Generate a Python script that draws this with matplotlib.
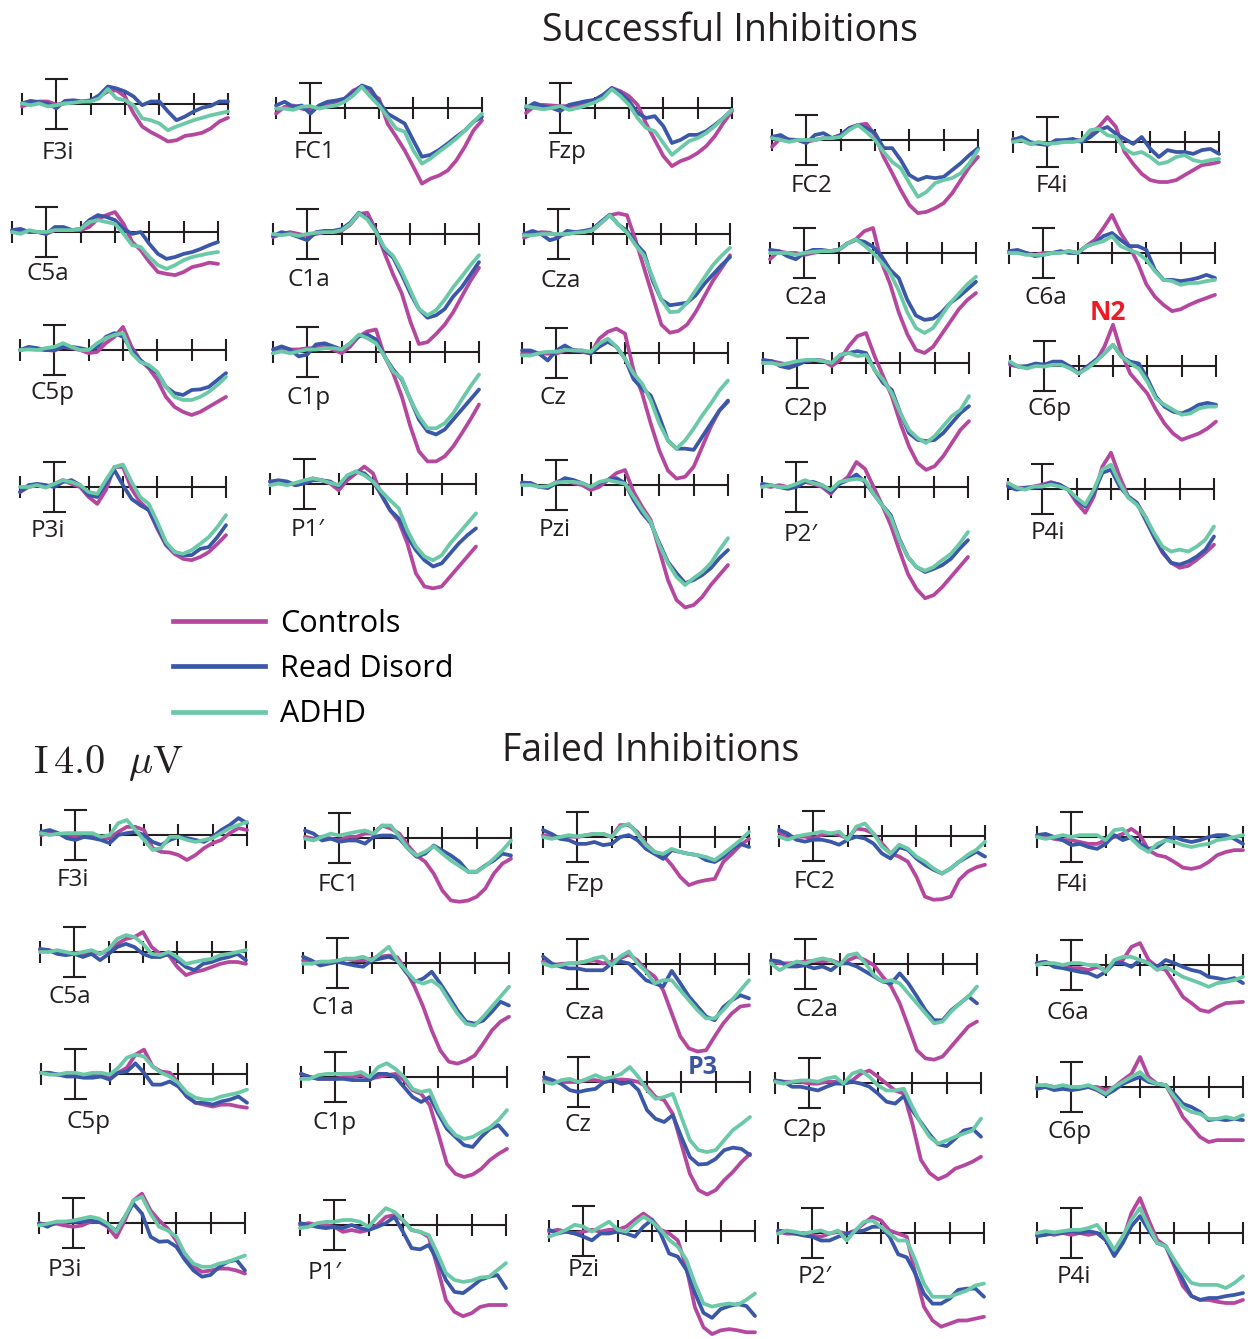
import numpy as np
import matplotlib
matplotlib.use("Agg")
import matplotlib.pyplot as plt
from matplotlib.lines import Line2D

plt.rcParams['font.family'] = ['Open Sans', 'DejaVu Sans']
plt.rcParams['mathtext.fontset'] = 'cm'

W, H = 1256, 1339

# ---------------- data ----------------
times = np.arange(-100, 501, 25)          # ms
groups = ["Controls", "Read Disord", "ADHD"]
group_colors = ["#b5479e", "#3a57a8", "#6bc9a8"]
tick_times = [-100, 100, 200, 300, 400, 500]
scale_uv = 4.0

# amplitudes in microvolts (negative plotted upward); order: Controls, Read Disord, ADHD
# ---- Successful inhibitions ----
s_F3i = ([0.4,-0.1,-0.4,-0.4,0.1,-0.1,-0.3,-0.4,-0.5,-1.2,-2.0,-2.2,-1.2,1.5,3.6,4.5,5.2,6.0,5.8,5.1,4.9,4.6,3.9,2.8,2.2],
         [-0.1,-0.5,-0.3,-0.1,0.7,-0.5,-0.6,-0.4,-0.6,-1.4,-2.8,-2.5,-2.0,-1.2,0.2,-0.4,-0.4,1.2,2.6,2.0,1.2,0.6,0.3,-0.4,-0.4],
         [-0.1,0.2,-0.1,0.4,0.2,-0.1,-0.2,-0.4,-0.4,-0.9,-2.4,-0.9,-0.6,0.2,2.3,2.6,3.1,4.2,3.6,3.1,2.6,2.2,1.8,1.5,1.2])
s_FC1 = ([0.9,-0.2,-0.4,0.1,0.4,-0.2,-0.7,-1.0,-1.5,-2.8,-3.4,-2.3,-1.5,2.5,4.6,6.8,9.4,12.1,11.3,10.8,10.0,8.4,6.2,3.6,2.0],
         [-0.4,-1.0,-0.2,-0.4,0.9,-0.4,-1.0,-1.2,-1.5,-2.5,-3.6,-3.1,-1.0,0.9,1.7,2.5,5.2,7.8,7.5,6.7,5.7,4.6,3.6,2.2,1.4],
         [0.1,0.1,0.3,-0.2,-0.3,0.1,-0.2,-0.4,-1.0,-2.0,-3.4,-1.8,-0.4,1.4,3.3,3.8,6.8,8.9,8.1,7.0,6.0,4.9,3.6,2.2,0.9])
s_Fzp = ([0.8,-0.3,-0.5,-0.4,-0.3,-0.3,-0.5,-0.9,-1.3,-2.1,-3.2,-2.7,-1.9,-0.5,2.5,5.1,7.7,9.3,8.5,8.0,7.2,6.1,4.5,2.4,0.5],
         [0,-0.8,-0.3,0,0.5,-0.5,-0.8,-1.1,-1.3,-2.1,-3.2,-2.4,-1.1,0.8,1.6,1.3,2.9,5.6,5.1,4.3,4.3,3.7,2.7,1.6,0.3],
         [-0.3,0,0.2,0,-0.3,0.3,0,-0.4,-0.9,-1.6,-3.0,-1.9,-0.5,1.6,3.2,3.7,5.6,7.5,6.4,5.3,4.8,4.0,2.9,1.6,0.3])
s_FC2 = ([1.1,-0.3,-0.1,0,0.3,0,-0.3,-0.3,-0.8,-1.9,-2.4,-2.6,-0.8,2.7,5.3,8.0,10.4,11.7,11.5,10.9,10.1,8.5,6.4,4.3,2.7],
         [-0.5,-0.8,0,0,0.5,-0.8,-1.1,-0.3,-0.8,-1.9,-2.4,-1.9,-1.1,1.3,1.3,3.2,5.6,6.4,5.9,6.1,5.9,4.8,3.7,2.4,1.3],
         [-0.3,0,0.3,0,0,0,-0.3,-0.3,-0.5,-1.6,-2.4,-1.3,0,1.9,3.5,4.5,6.9,9.1,8.3,6.9,6.4,6.1,5.3,3.7,1.6])
s_F4i = ([-0.5,-0.3,0.3,0.2,0.3,0,-0.3,-0.3,-0.3,-1.3,-2.4,-4.0,-2.4,1.6,3.5,5.1,6.1,6.4,6.4,6.1,5.3,4.5,3.7,3.5,3.2],
         [-0.3,-0.8,0,0.3,0.5,-0.3,-0.3,-0.5,0,-0.8,-1.9,-2.4,-1.3,-0.5,0.3,-0.8,1.1,2.4,1.3,1.6,1.6,1.9,1.3,1.1,1.9],
         [0,-0.3,0.3,0,0.3,0.2,0,0,-0.3,-1.9,-2.1,-1.1,-0.8,1.1,1.9,1.6,2.4,3.5,3.2,2.4,2.1,2.9,3.2,2.9,2.7])
s_C5a = ([0,-0.3,0,0,0.3,-0.3,-0.5,-0.3,-0.3,-0.8,-2.1,-2.7,-3.2,-1.3,1.6,2.9,4.8,6.4,6.7,6.9,6.4,5.6,5.3,4.9,5.1],
         [-0.3,-0.5,0,0,0.3,-0.8,-0.8,-0.3,-0.5,-1.9,-2.7,-2.4,-1.9,-0.5,0.3,0,1.9,3.5,4.3,4.0,3.5,3.2,2.7,2.1,1.6],
         [0,0.3,-0.3,0,0,-0.3,-0.3,-0.3,-0.5,-1.6,-1.9,-1.6,-1.3,0.3,2.1,2.4,4.0,5.3,5.9,5.3,4.5,4.0,3.7,3.4,3.2])
s_C1a = ([0.5,0,-0.3,0,0.3,0,-0.3,-0.3,-0.5,-1.5,-3.2,-3.4,-0.6,3.1,6.5,9.5,14.0,17.6,17.3,16.0,14.5,12.5,10.0,7.5,5.4],
         [0.3,-0.3,0,0.5,1.0,-0.3,-0.5,-0.5,-0.8,-1.8,-3.4,-2.5,-0.5,2.5,3.8,6.5,9.5,12.0,13.4,13.0,12.0,10.0,8.5,6.5,4.5],
         [0,0.2,0,0.3,0,-0.2,-0.3,-0.3,-0.6,-1.6,-3.3,-2.3,-0.3,2.2,3.5,6.0,9.0,12.0,13.0,12.2,10.5,8.5,6.8,5.0,3.4])
s_Cza = ([0.6,0,-0.3,-0.2,0.3,0,-0.3,-0.4,-0.6,-1.8,-3.0,-3.3,-3.0,1.0,5.5,10.0,14.5,15.8,15.5,14.5,12.5,10.0,7.5,5.5,3.4],
         [0,-0.5,0,1.0,0.6,-0.5,-0.3,-0.5,-0.8,-2.0,-3.1,-1.5,-0.5,1.5,3.0,7.5,10.5,11.4,11.2,11.0,9.8,8.0,6.5,5.0,3.7],
         [0.2,0.2,0,0,0,0,-0.2,-0.3,-0.6,-1.8,-3.0,-1.5,-0.2,1.8,3.5,7.0,10.5,12.5,12.4,11.0,9.0,7.0,5.0,3.5,2.2])
s_C2a = ([1.0,-0.3,0,0,0.3,0,-0.3,-0.3,-0.5,-1.5,-2.2,-3.5,-4.0,1.5,5.0,9.5,13.0,15.5,16.0,15.0,13.0,11.0,9.0,7.5,6.4],
         [-0.5,-0.3,0.5,1.0,0,-0.5,-0.5,-0.3,-0.5,-1.5,-2.1,-1.8,-1.0,0.5,2.7,4.0,7.5,10.0,10.7,10.5,9.5,8.0,7.0,5.8,4.6],
         [0,0,0,0.3,0,-0.2,-0.3,-0.3,-0.5,-1.5,-2.2,-1.2,0,1.5,3.2,6.0,9.5,12.0,12.8,12.0,10.0,8.0,6.5,5.0,3.8])
s_C6a = ([0,-0.3,0,0.3,0,0,-0.1,-0.3,0,-1.1,-2.1,-4.0,-6.1,-3.2,-1.1,1.6,5.0,7.0,8.3,9.3,9.0,8.3,7.7,7.2,6.7],
         [-0.3,-0.5,0,0.5,0.3,0,-0.3,0,0,-1.1,-1.6,-2.7,-3.2,-2.1,-1.1,-1.1,-0.5,2.7,4.3,4.3,4.5,4.3,4.0,3.5,4.0],
         [0,0,0.3,0.3,0.3,0,0,-0.3,0,-1.1,-1.5,-1.9,-2.7,-1.1,-0.5,0,1.1,2.9,4.3,4.5,5.1,4.8,4.8,4.5,4.3])
s_C5p = ([0,-0.3,-0.1,0,0.1,-0.5,-0.3,0,0.5,0.3,-1.1,-2.1,-3.7,-0.5,1.6,2.9,4.8,7.5,9.1,9.9,10.4,9.9,9.1,8.3,7.5],
         [0,-0.5,-0.3,0,0,-0.5,-0.5,-0.3,0,-0.5,-2.1,-2.7,-2.1,0,1.6,2.7,3.7,5.9,6.9,7.2,6.4,6.3,5.9,4.8,3.7],
         [0,-0.1,0,-0.3,-0.5,-1.1,-0.5,0,0,-1.1,-1.9,-2.4,-2.7,0.5,1.9,2.4,3.5,5.9,7.5,8.0,8.0,7.5,6.7,5.6,4.3])
s_C1p = ([0.2,-0.6,-0.4,-0.4,-0.6,-0.6,-0.9,-0.4,0.2,-0.9,-2.5,-3.3,-3.6,0.7,3.4,7.1,11.9,15.9,17.5,17.5,16.7,15.1,13.0,10.8,8.4],
         [-0.4,-0.9,-0.4,0.7,0.4,-1.2,-1.4,-0.9,-0.4,-1.4,-2.5,-2.8,-2.0,0.7,2.8,4.4,7.6,10.8,12.7,13.2,12.4,10.8,9.2,7.6,6.0],
         [0.2,-0.1,0.2,-0.1,-0.4,-0.4,-0.6,-0.6,-0.4,-1.4,-2.8,-2.2,-1.4,0.7,3.1,4.2,7.6,10.3,12.2,12.2,11.4,9.8,7.6,5.5,3.6])
s_Cz = ([0.1,-0.2,0.1,0.1,0.1,-0.4,-0.5,-0.2,0.1,-2.3,-3.4,-3.9,-3.1,2.8,6.5,11.3,15.6,18.8,20.1,19.8,18.2,15.0,11.8,9.2,7.8],
        [-0.4,-0.4,0.1,1.2,-0.4,-1.2,-0.4,-0.4,0.1,-1.0,-1.8,-1.0,0.9,4.2,5.7,6.8,10.2,14.0,15.3,15.3,15.5,13.4,11.3,9.2,7.6],
        [0.4,0.4,0,-0.2,-0.2,-0.5,-0.4,-0.4,-0.2,-1.5,-2.3,-1.0,0.9,3.3,4.9,7.6,11.3,14.0,15.3,14.0,12.1,10.0,8.1,6.0,4.4])
s_C2p = ([0,-0.3,0,0.3,0,-0.3,-0.5,-0.4,0.5,-0.5,-2.7,-4.3,-4.8,-1.1,2.1,5.3,9.6,13.3,16.0,17.1,16.5,14.9,12.8,10.7,9.3],
         [-0.5,-0.3,0.5,0.8,0.3,-0.3,-0.5,-0.3,0,-1.3,-1.6,-1.9,-1.6,1.1,3.2,4.3,8.0,11.2,12.3,12.5,12.3,11.2,9.6,8.0,6.9],
         [0,0,0.3,0,-0.3,-0.5,-0.5,-0.3,0,-1.3,-1.6,-1.1,-1.3,1.1,2.7,4.8,8.0,10.7,12.0,12.8,11.7,10.1,8.5,7.5,5.3])
s_C6p = ([-0.2,0.1,0.2,-0.2,-0.2,-0.2,-0.3,0.1,1.2,0.1,-0.7,-3.1,-6.6,-2.0,1.2,2.8,4.4,7.0,9.2,10.8,11.8,11.3,10.8,10.0,8.9],
         [-0.5,0.1,0,-0.4,-0.2,-0.7,-0.7,0.1,1.2,0.1,-1.0,-2.0,-3.4,-1.5,-0.7,-0.4,2.0,4.9,6.5,7.3,7.6,7.0,6.2,5.9,6.2],
         [-0.7,0.1,0.4,0,0.1,-0.2,-0.2,0.4,1.2,0.4,-0.7,-2.0,-3.4,-1.5,-0.4,0.4,2.5,5.2,6.2,7.0,7.8,7.6,6.8,6.5,6.5])
s_P3i = ([0.8,0,-0.3,0,-0.5,-1.1,-0.5,0,1.6,2.7,0.5,-3.2,-3.2,0.3,2.4,3.7,6.7,9.3,10.7,11.5,11.7,11.2,10.4,9.1,7.7],
         [0.8,-0.3,-0.5,-0.3,0,-0.8,-1.1,-0.3,1.3,1.6,-0.5,-2.7,-0.3,1.9,2.9,3.7,6.4,9.1,10.4,10.9,10.9,9.9,9.6,8.0,6.1],
         [0,0,-0.3,0.1,-0.5,-1.1,-0.8,-0.3,0.8,1.1,-1.1,-3.2,-3.6,-0.8,1.6,2.7,5.6,8.8,10.4,10.7,10.1,9.1,8.0,6.4,4.5])
s_P1p = ([-0.4,-0.1,-0.2,0.2,-0.4,-0.9,-0.6,-0.1,1.0,-0.6,-1.7,-2.8,-1.7,1.8,4.2,6.0,9.5,14.3,16.4,16.7,16.4,14.8,13.2,11.6,10.0],
         [-0.4,-0.6,-0.4,0.2,-0.1,-0.6,-0.6,-0.4,0.4,-1.2,-2.0,-1.7,-0.4,1.8,4.2,5.5,8.4,10.6,12.2,13.2,12.7,11.1,9.5,8.2,7.1],
         [0.2,-0.1,0.2,-0.2,-0.6,-0.9,-0.6,-0.2,0.2,-1.4,-2.0,-1.4,-0.4,1.2,2.6,3.9,7.4,10.0,11.6,12.2,11.4,9.5,7.9,6.3,4.7])
s_Pzi = ([-0.3,-0.3,0.3,0.3,-0.5,-0.8,-0.3,0,0.8,0.3,-0.8,-1.9,-2.4,1.1,3.5,5.6,10.4,15.2,18.4,19.6,19.2,17.9,16.0,14.4,12.8],
         [-0.4,-0.3,0.3,0.5,-0.3,-1.1,-0.8,-0.3,0.3,-0.3,-0.8,-1.1,-0.3,2.4,4.5,6.1,9.3,12.3,14.1,15.7,15.2,14.4,13.3,11.7,10.4],
         [0,0,0.3,0.2,-0.4,-0.5,-0.5,-0.3,0.3,-0.5,-0.8,-0.5,-0.2,1.9,4.0,5.9,9.6,12.5,14.7,16.0,14.9,13.9,12.5,10.4,8.5])
s_P2p = ([-0.3,0,-0.3,0,-0.3,-0.8,-0.5,0,1.1,-0.5,-1.6,-4.0,-2.9,0,2.9,6.1,10.1,13.9,16.3,17.8,17.3,16.0,14.4,12.8,11.2],
         [-0.5,-0.3,0,0.3,0,-0.8,-0.8,-0.3,0.8,-0.5,-1.1,-2.0,-0.8,1.1,2.9,4.5,8.3,11.2,12.8,13.6,13.1,12.5,11.5,9.9,8.5],
         [0,-0.3,0,0,-0.5,-1.1,-0.6,-0.3,0.5,-0.8,-1.1,-1.3,-1.1,1.1,2.9,4.8,8.5,11.2,12.8,13.4,12.8,11.7,10.7,9.1,7.2])
s_P4i = ([-0.7,-0.2,-0.2,-0.4,-0.7,-1.1,-0.7,0.1,2.2,3.8,1.2,-3.6,-5.8,-2.0,1.2,2.2,4.4,7.6,10.2,11.8,12.6,12.3,11.3,10.2,8.9],
         [-0.4,0.1,-0.2,-0.2,-0.4,-1.0,-0.7,0.1,1.7,2.8,0.6,-2.6,-3.1,-0.4,1.2,2.2,4.9,7.6,10.0,11.8,12.1,11.6,10.8,9.7,7.6],
         [-1.0,-0.2,0.1,-0.4,-0.4,-0.7,-0.4,0.1,1.4,2.5,0.1,-3.1,-3.9,-1.0,1.4,2.5,4.4,7.0,9.2,10.0,9.7,10.0,9.2,8.1,6.0])

# ---- Failed inhibitions ----
f_F3i = ([0,-0.3,-0.2,0,0.3,0,0.3,0.5,0.5,-0.5,-1.3,-1.3,-0.8,2.1,2.7,2.8,3.2,4.0,3.2,2.1,1.3,0.8,-0.3,-1.1,-0.8],
         [-0.5,-0.8,-0.3,0.5,0.8,0.3,0.5,0.8,1.3,0,-0.3,-0.5,0,1.1,1.6,0.8,0.3,0.5,0.8,1.1,0.3,-0.8,-1.6,-2.7,-1.9],
         [-0.3,0,-0.2,-0.3,-0.3,-0.3,-0.3,0.3,0,-1.9,-2.4,-0.8,0.8,2.4,2.1,0.3,0.3,0.8,1.1,0.8,0.5,-0.3,-1.1,-1.6,-2.1])
f_FC1 = ([-0.2,0.1,-0.2,0.1,0.4,-0.2,-0.2,-0.7,-0.7,-2.0,-1.5,-0.7,1.2,2.8,3.8,5.7,8.4,10.0,10.2,10.0,9.4,8.1,5.7,4.1,3.3],
         [-1.2,-0.7,0.4,0.1,0.6,0.4,0.4,0.9,-0.2,-0.4,-0.4,0.1,1.7,3.0,2.5,1.2,2.0,2.8,3.8,5.4,5.4,4.4,3.6,2.5,2.8],
         [0.1,0.4,-0.2,-0.7,-0.4,-0.7,-1.0,-1.2,-0.7,-2.0,-2.0,-0.2,1.7,2.8,2.2,1.3,2.5,3.6,4.5,5.4,5.4,4.5,3.3,2.0,0.4])
f_Fzp = ([-0.3,0,0,-0.1,0,-0.3,-0.5,-0.5,0,-1.9,-1.9,-0.8,1.1,2.4,2.9,4.5,6.4,7.7,7.2,6.9,6.7,4.0,2.7,1.3,0.3],
         [-1.1,-0.5,0.3,0.5,1.1,1.1,0.8,1.3,1.1,0,-0.3,0.5,1.9,2.7,3.5,2.1,2.4,2.7,2.9,3.7,4.0,3.2,1.9,1.1,1.6],
         [0,0.3,0,-0.3,-0.1,-0.3,-0.5,-0.5,0,-1.6,-2.1,-0.5,1.3,2.4,2.7,1.9,2.4,2.7,2.9,3.2,3.7,2.7,1.6,0.5,-0.8])
f_FC2 = ([-0.7,0.4,0.1,0.1,0.4,-0.2,-0.4,-0.2,0.4,-1.2,-1.0,-0.4,1.2,2.8,3.3,4.1,6.5,9.7,10.2,10.1,9.7,7.0,5.7,5.0,4.6],
         [-1.0,-0.4,0.6,0.9,0.6,0.6,0.9,1.4,0.6,0.1,0.4,1.2,2.8,3.6,1.8,2.2,3.6,4.6,5.4,6.0,5.2,4.1,3.3,2.5,3.3],
         [0.1,0.6,0.1,-0.2,-0.4,-0.7,-0.4,-0.7,0.6,-1.5,-2.0,-0.4,1.7,2.8,1.4,2.0,3.3,4.1,5.2,6.0,5.2,4.1,3.0,2.2,0.9])
f_F4i = ([0,-0.1,0.3,0.5,0.5,0.8,1.1,1.1,0.5,0,-0.5,-1.3,-0.3,2.1,2.9,3.2,4.0,4.9,5.1,4.8,4.0,2.9,2.4,2.1,2.1],
         [-0.3,-0.5,0,0.5,1.3,1.1,1.6,1.9,1.1,-0.3,0.5,0,1.1,1.9,1.6,0.5,0,0.5,0.8,0.5,0,-0.3,-0.3,0.3,1.1],
         [0,0.3,0,-0.3,0,-0.3,-0.3,-0.3,0.5,-1.1,-1.3,0.3,1.6,2.4,1.1,0.5,0.8,1.3,1.6,1.3,1.1,0.5,0.3,0,-0.3])
f_C5a = ([-0.3,-0.3,0,0.3,0.2,0.3,0,0.3,-0.3,-1.3,-2.1,-2.4,-3.2,-0.8,0.3,0.5,2.4,3.7,3.2,2.9,2.4,1.9,1.6,1.6,1.9],
         [-0.5,-0.3,0.3,0.5,0.3,0.8,0.3,1.3,0.3,-0.8,-1.3,-0.8,0.3,0.8,0.8,0.3,1.3,2.4,2.9,1.9,1.6,1.1,0.8,0.3,1.3],
         [0,0,-0.3,0,0.3,0,-0.3,0.3,-0.5,-2.1,-2.7,-2.4,-1.3,0.3,0.5,0,0.8,1.9,1.6,1.3,1.1,0.5,0.3,0,-0.3])
f_C1a = ([-0.4,0.1,-0.2,-0.2,-0.2,-0.7,-0.4,-0.4,-0.7,-1.0,-1.2,-0.9,1.2,3.8,7.0,10.8,14.0,15.8,16.1,15.6,14.8,12.9,10.8,9.4,8.6],
         [-1.0,-0.4,0.4,0.1,-0.2,0.1,0.4,0.6,-0.4,-0.7,-1.0,-0.4,1.5,3.0,2.5,1.4,3.3,5.4,7.6,9.4,9.7,9.2,7.8,6.2,6.8],
         [0.1,0.1,-0.2,-0.2,-0.4,-0.7,-0.7,-1.0,-0.4,-1.5,-2.6,-0.4,1.2,2.8,3.3,2.8,3.8,6.0,8.1,9.7,10.0,8.6,7.0,5.4,3.8])
f_Cza = ([-0.4,0.2,0,-0.1,-0.1,-0.4,-0.6,-0.1,-0.4,-0.9,-1.5,-0.6,1.0,2.0,4.2,7.9,11.6,13.5,14.0,13.8,11.6,9.5,7.9,6.8,6.6],
         [-1.2,-0.1,0.4,0.7,0.7,1.0,1.0,1.0,-0.1,-0.4,-0.1,1.2,2.6,3.1,3.6,1.1,3.1,5.2,6.8,8.4,9.0,6.9,5.8,5.0,5.5],
         [-0.1,0.4,0.2,-0.1,-0.2,-0.4,-0.9,-1.2,0.2,-1.2,-2.0,-0.1,1.2,3.1,2.6,2.6,4.2,5.8,7.4,8.7,8.7,7.4,5.8,4.2,2.6])
f_C2a = ([-0.4,-0.1,-0.1,-0.2,-0.4,-0.5,-0.4,-0.6,-0.1,-0.6,-1.2,-0.6,0.2,2.0,3.6,6.3,10.0,13.8,15.1,15.3,14.8,13.2,11.6,10.0,9.2],
         [-0.6,-0.4,0.4,0.4,0.2,0.7,0.4,1.0,-0.1,-0.1,0.4,1.2,2.0,2.8,3.1,1.5,3.1,5.2,7.4,9.0,9.0,7.4,6.3,5.2,6.3],
         [-0.1,1.0,0.2,-0.4,-0.1,-0.6,-0.9,-0.6,0.2,-1.4,-1.7,-0.1,1.8,2.8,2.6,3.1,4.7,6.3,7.9,9.5,9.2,7.6,6.3,5.2,3.6])
f_C6a = ([-0.3,-0.5,0,0.3,0.5,0.5,0.8,0.3,0.8,-0.3,-0.8,-2.9,-3.5,-0.8,0.3,0.8,2.9,5.1,6.1,7.2,7.5,6.7,6.1,6.0,5.9],
         [-0.3,-0.5,0.3,0.5,0.8,1.1,1.3,1.9,1.1,-0.3,-0.3,0.3,-0.8,-0.3,0.3,-0.8,-0.3,0.3,0.8,1.1,1.9,2.1,2.4,2.1,2.9],
         [0,-0.3,-0.3,0,-0.3,-0.3,0,0,1.1,-0.8,-1.3,-1.3,-0.8,-0.3,0.8,0.3,1.1,1.9,2.4,2.9,3.5,2.9,2.7,2.4,1.9])
f_C5p = ([-0.2,0,0.1,0.1,0.3,0.4,0.4,0.1,0.4,-0.2,-1.0,-3.1,-3.9,-1.2,-0.4,-0.2,1.4,3.6,4.6,4.9,5.2,4.9,4.9,5.2,5.4],
         [-0.2,-0.2,0.1,0.4,0.4,0.6,0.6,0.4,0.9,-0.2,-0.4,-1.7,-0.2,1.7,1.7,1.2,2.0,3.6,4.6,4.6,4.9,4.4,4.1,3.6,4.6],
         [-0.2,0.1,0.1,-0.2,-0.2,0.1,-0.2,-0.2,0.1,-1.0,-2.6,-3.1,-2.8,-1.2,-0.2,0.4,1.4,3.0,3.8,4.1,4.1,3.6,3.3,3.0,2.5])
f_C1p = ([-0.5,0,0.3,0.3,0.3,0,0,-0.3,0.3,0,-0.3,-0.5,0.5,2.1,2.7,4.5,9.1,13.9,15.5,16.0,15.6,14.7,13.3,12.3,11.5],
         [-0.5,0,0.3,0.3,0.3,0.3,0.5,0.5,0.5,-0.5,-0.5,0,1.6,3.2,4.0,3.2,5.9,8.3,9.6,10.9,11.2,9.6,8.3,7.7,9.3],
         [0.3,0.3,-0.3,-0.5,-0.5,-0.5,-0.5,-0.8,0,-1.6,-2.2,-1.3,0,1.9,2.4,2.1,5.3,7.7,9.3,9.9,9.6,8.8,8.1,6.9,5.3])
f_Cz = ([-0.3,0,0,0,0,-0.3,-0.3,0,-0.3,-0.4,-0.3,0,0.8,2.4,2.9,5.1,9.9,14.7,17.3,18.0,17.3,15.7,14.4,12.8,11.5],
        [-0.8,-0.3,0.3,1.3,1.6,1.3,1.1,0,-0.3,0.3,0,1.3,4.5,5.9,6.4,5.3,8.8,12.0,13.2,13.1,12.3,10.9,10.5,10.7,11.7],
        [0,0.3,-0.3,-0.5,0,-0.5,-1.1,-0.5,-0.8,-1.3,-2.4,-0.8,1.3,2.7,2.4,1.9,5.6,9.3,10.9,11.2,10.9,9.3,7.7,6.7,5.6])
f_C2p = ([-0.4,-0.2,-0.2,-0.2,0.1,0.1,-0.2,-0.2,0.1,-0.4,-1.5,-2.0,-1.0,0.1,1.2,1.7,6.5,12.3,14.4,15.4,14.8,13.7,13.2,12.6,11.8],
         [-0.4,-0.2,0.6,0.6,0.9,1.2,0.6,0.1,0.1,-0.2,0.1,0.6,1.7,3.0,3.3,2.1,4.4,6.3,8.2,9.8,10.1,8.9,7.6,7.3,8.6],
         [-0.2,0.1,-0.2,-0.4,-0.4,-0.2,-0.7,-1.0,0.1,-1.5,-2.0,-1.0,0.4,1.2,1.2,0.9,3.8,6.5,8.6,9.7,9.2,8.6,8.1,7.6,5.7])
f_C6p = ([0,-0.3,0,0,0.3,0,0,0,0.5,0,-1.1,-2.1,-4.8,-1.6,-0.5,-0.3,2.1,4.8,6.4,8.0,8.8,8.5,8.5,8.5,8.5],
         [0.3,0,0.5,0.3,0.5,0.3,0,0.5,1.3,0.5,-0.5,-1.1,-1.6,-0.8,-0.5,-0.3,1.1,2.7,3.2,4.0,5.3,5.1,5.3,5.1,5.3],
         [-0.3,-0.3,0,-0.3,0,0,-0.3,0.3,1.1,0,-0.8,-1.6,-2.4,-1.1,-0.5,-0.3,1.6,3.2,4.0,4.3,5.1,5.1,4.8,5.1,4.5])
f_P3i = ([0,0.4,0.1,0.4,0.6,0.4,-0.2,-0.2,0.6,2.3,-0.4,-3.6,-4.7,-2.0,-0.4,0.9,2.8,5.4,7.0,7.8,7.6,7.3,7.3,7.6,8.1],
         [0.1,0.6,-0.2,-0.2,-0.2,-0.2,-0.4,-0.2,0.4,1.2,-1.0,-3.1,-1.5,2.2,3.0,2.9,3.8,5.9,7.6,8.6,8.3,7.0,6.2,5.9,7.6],
         [0.4,0.1,-0.2,-0.2,-0.4,-0.7,-1.0,-0.7,0.1,1.4,-1.0,-3.6,-4.2,-1.5,0.6,1.2,2.2,4.9,6.5,7.0,7.0,6.5,6.2,5.7,5.2])
f_P1p = ([0,-0.3,0,0,0.3,1.1,0.8,1.1,0.8,0,-1.3,-1.6,-0.8,0.8,1.1,1.9,6.7,12.0,13.9,14.6,14.1,13.1,12.8,12.8,12.8],
         [-0.3,0,0.3,0.5,0.3,0.5,0,0.5,0.8,0.3,-0.3,-1.3,1.1,3.7,3.9,3.2,5.6,8.8,10.7,10.9,9.9,8.8,8.3,8.0,10.1],
         [0.5,0.3,-0.3,-0.5,-0.5,-0.8,-0.8,-0.5,0.3,-1.3,-2.7,-2.1,-0.8,0.8,1.1,1.6,4.5,7.7,8.8,9.1,8.9,8.4,8.3,7.2,6.1])
f_Pzi = ([0.1,-0.2,0.1,0.4,0.1,-0.2,0.1,-0.2,-0.2,-0.7,-1.8,-2.8,-1.8,-0.2,0.4,1.5,5.8,12.2,15.4,16.5,15.9,15.7,15.9,16.2,16.2],
         [-0.2,0.4,0.1,0.4,0.9,1.5,0.4,0.4,0.1,0.4,0.9,-0.7,-1.8,0.4,3.6,4.1,6.2,9.9,13.1,13.9,12.5,12.0,11.7,12.0,13.6],
         [0.9,0.4,-0.2,-1.0,-0.7,0.1,-0.7,-1.5,-0.2,0.1,-1.2,-2.3,-1.5,-0.2,1.4,2.5,4.6,8.4,11.6,12.1,11.8,11.6,11.8,11.0,10.0])
f_P2p = ([-0.2,0.1,0.1,0,0.4,0.6,0.1,-0.2,0.1,-0.4,-1.5,-2.6,-2.0,-0.4,0.1,0.6,6.5,11.8,14.0,15.0,14.5,14.0,14.0,13.7,13.4],
         [-0.4,-0.2,0.1,0.4,0.6,1.2,1.2,0.6,0.1,-0.2,-0.4,-1.0,-1.0,0.6,3.4,3.9,6.5,9.7,11.3,11.3,10.5,9.1,8.9,8.9,10.2],
         [0.1,-0.4,-0.2,0.1,-0.2,-0.4,0.1,-0.4,1.2,-0.4,-1.8,-2.0,-1.0,0.1,1.2,1.2,4.4,8.1,10.2,10.2,10.2,9.7,9.2,8.4,8.1])
f_P4i = ([0.3,0,0.3,0,0.3,0,0.3,0,1.1,3.2,1.1,-3.2,-5.6,-2.1,1.1,2.1,5.3,8.5,10.1,10.7,10.7,11.0,11.2,11.2,10.7],
         [0.5,0.3,0,0,-0.3,0,-0.3,0,1.1,3.7,1.6,-1.1,-2.7,-0.5,1.6,2.1,4.8,7.5,10.1,10.7,10.4,10.4,10.1,9.9,9.6],
         [0,-0.3,-0.1,-0.3,-0.5,-0.5,-0.8,-1.3,0.5,2.7,0.5,-2.1,-4.0,-1.1,1.6,2.1,4.3,6.4,8.0,8.3,8.3,8.3,8.8,8.0,6.9])

# ---------------- layout (pixels): data, label, axis-left x, baseline y, label x, label y ----------------
panels = [
    (s_F3i, "F3i", 22, 104, 58, 153), (s_FC1, "FC1", 276, 108, 314, 152), (s_Fzp, "Fzp", 526, 108, 567, 152),
    (s_FC2, "FC2", 772, 140, 812, 186), (s_F4i, "F4i", 1013, 142, 1052, 186),
    (s_C5a, "C5a", 12, 232, 48, 274), (s_C1a, "C1a", 273, 234, 309, 280), (s_Cza, "Cza", 524, 234, 561, 281),
    (s_C2a, "C2a", 770, 253, 806, 298), (s_C6a, "C6a", 1009, 253, 1046, 298),
    (s_C5p, "C5p", 20, 350, 53, 393), (s_C1p, "C1p", 273, 352, 309, 398), (s_Cz, "Cz", 522, 353, 553, 398),
    (s_C2p, "C2p", 763, 363, 806, 409), (s_C6p, "C6p", 1010, 366, 1050, 409),
    (s_P3i, "P3i", 20, 487, 48, 531), (s_P1p, "P1\u2032", 270, 484, 308, 530), (s_Pzi, "Pzi", 522, 485, 555, 530),
    (s_P2p, "P2\u2032", 762, 487, 801, 535), (s_P4i, "P4i", 1008, 489, 1048, 533),
    (f_F3i, "F3i", 41, 835, 73, 880), (f_FC1, "FC1", 305, 838, 338, 885), (f_Fzp, "Fzp", 543, 837, 585, 885),
    (f_FC2, "FC2", 779, 836, 815, 882), (f_F4i, "F4i", 1037, 837, 1072, 885),
    (f_C5a, "C5a", 40, 952, 70, 997), (f_C1a, "C1a", 303, 963, 333, 1008), (f_Cza, "Cza", 543, 964, 585, 1013),
    (f_C2a, "C2a", 771, 964, 817, 1010), (f_C6a, "C6a", 1037, 965, 1068, 1013),
    (f_C5p, "C5p", 41, 1074, 88, 1122), (f_C1p, "C1p", 301, 1077, 335, 1123), (f_Cz, "Cz", 544, 1082, 578, 1125),
    (f_C2p, "C2p", 775, 1083, 805, 1130), (f_C6p, "C6p", 1037, 1087, 1070, 1132),
    (f_P3i, "P3i", 39, 1223, 65, 1270), (f_P1p, "P1\u2032", 300, 1225, 325, 1273), (f_Pzi, "Pzi", 549, 1231, 584, 1270),
    (f_P2p, "P2\u2032", 778, 1233, 815, 1277), (f_P4i, "P4i", 1037, 1233, 1074, 1277),
]

PX_PER_MS = 206.0 / 600.0
PX_PER_UV = 6.25
Y_TOP, Y_BOT = -6.0, 22.0
AX_COLOR = "#231f20"

fig = plt.figure(figsize=(W / 100, H / 100), dpi=100)
fig.patch.set_facecolor("white")


def add_panel(data, label, xl, yb, lx, ly):
    wpx = 600 * PX_PER_MS
    top_px = yb + Y_TOP * PX_PER_UV
    hpx = (Y_BOT - Y_TOP) * PX_PER_UV
    ax = fig.add_axes([xl / W, 1 - (top_px + hpx) / H, wpx / W, hpx / H])
    ax.set_xlim(-100, 500)
    ax.set_ylim(Y_BOT, Y_TOP)
    ax.set_axis_off()
    kw = dict(color=AX_COLOR, lw=1.5, clip_on=False)
    ax.plot([-100, 500], [0, 0], solid_capstyle="butt", **kw)
    ax.vlines(tick_times, -1.8, 1.8, **kw)
    ax.vlines([0], -scale_uv, scale_uv, **kw)
    ax.hlines([-scale_uv, scale_uv], -33, 33, **kw)
    for vals, c in zip(data, group_colors):
        ax.plot(times, vals, color=c, lw=2.7, clip_on=False,
                solid_joinstyle="round", solid_capstyle="round")
    fig.text(lx / W, 1 - ly / H, label, ha="center", va="center", fontsize=17.5,
             color="#231f20")


for p in panels:
    add_panel(*p)

# titles
fig.text(730 / W, 1 - 31 / H, "Successful Inhibitions", ha="center", va="center",
         fontsize=27, color="#231f20")
fig.text(651 / W, 1 - 751 / H, "Failed Inhibitions", ha="center", va="center",
         fontsize=27, color="#231f20")

# component annotations
fig.text(1108 / W, 1 - 313 / H, "N2", ha="center", va="center", fontsize=19,
         fontweight="bold", color="#ed1c24")
fig.text(703 / W, 1 - 1068 / H, "P3", ha="center", va="center", fontsize=18,
         fontweight="bold", color="#3d55a5")

# legend
handles = [Line2D([], [], color=c, lw=3.4) for c in group_colors]
fig.legend(handles, groups, loc="center left", bbox_to_anchor=(173 / W, 1 - 669 / H),
           frameon=False, fontsize=22, handlelength=3.0, handletextpad=0.5,
           labelspacing=0.5, borderpad=0, borderaxespad=0)

# scale annotation
fig.text(33 / W, 1 - 763 / H, r"$\mathrm{I}\,4.0\ \ \mu\mathrm{V}$", ha="left", va="center",
         fontsize=29, color="#231f20")

fig.savefig("out.png", dpi=100, facecolor="white")
